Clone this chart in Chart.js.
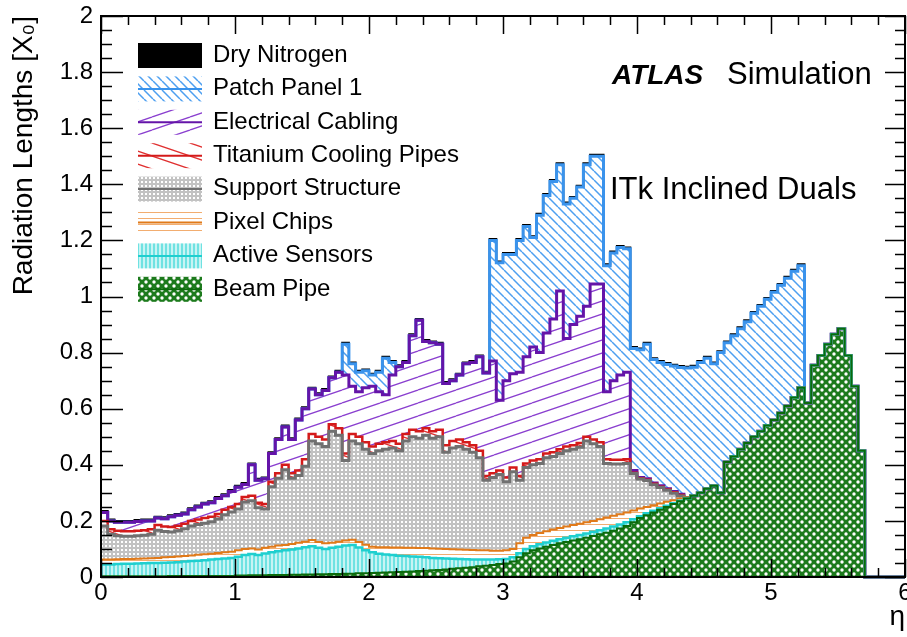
<!DOCTYPE html>
<html><head><meta charset="utf-8">
<script src="https://cdn.jsdelivr.net/npm/chart.js@4.4.1/dist/chart.umd.min.js"></script>
<style>html,body{margin:0;padding:0;background:#fff}#wrap{width:907px;height:637px}</style>
</head><body><div id="wrap"><canvas id="c" width="907" height="637"></canvas></div>
<script>
// eta bins: width 0.05 from 0 to 6 (120 bins). Values are cumulative stack tops [X0].
const binWidth = 0.05;
const etaMin = 0, etaMax = 6;
const yTicksStep = 0.2, yMax = 2;

const topBeamPipe = [0.003,0.003,0.003,0.003,0.003,0.003,0.003,0.003,0.003,0.003,
 0.004,0.004,0.004,0.004,0.004,0.004,0.004,0.004,0.004,0.004,
 0.005,0.005,0.006,0.006,0.006,0.007,0.007,0.007,0.008,0.008,
 0.009,0.009,0.010,0.010,0.011,0.011,0.012,0.012,0.013,0.013,
 0.014,0.015,0.016,0.017,0.018,0.019,0.020,0.021,0.022,0.024,
 0.025,0.027,0.029,0.031,0.033,0.035,0.038,0.040,0.043,0.046,
 0.048,0.055,0.070,0.085,0.095,0.102,0.108,0.114,0.120,0.125,
 0.130,0.135,0.140,0.146,0.152,0.158,0.165,0.173,0.182,0.195,
 0.210,0.220,0.230,0.240,0.250,0.260,0.270,0.280,0.290,0.300,
 0.315,0.325,0.300,0.410,0.430,0.455,0.478,0.500,0.520,0.540,
 0.560,0.585,0.610,0.640,0.675,0.620,0.755,0.790,0.830,0.865,
 0.885,0.790,0.680,0.450,0,0,0,0,0,0];

const topActiveSensors = [0.045,0.045,0.046,0.047,0.047,0.048,0.049,0.050,0.050,0.051,
 0.052,0.053,0.055,0.057,0.058,0.060,0.062,0.064,0.066,0.068,
 0.072,0.078,0.082,0.078,0.084,0.088,0.092,0.095,0.098,0.102,
 0.106,0.110,0.104,0.100,0.104,0.108,0.112,0.114,0.105,0.095,
 0.088,0.083,0.080,0.078,0.076,0.075,0.073,0.072,0.070,0.068,
 0.067,0.066,0.065,0.064,0.063,0.062,0.062,0.062,0.062,0.063,
 0.064,0.070,0.085,0.100,0.110,0.117,0.123,0.129,0.135,0.140,
 0.145,0.150,0.155,0.161,0.167,0.173,0.180,0.187,0.195,0.206,
 0.217,0.227,0.236,0.245,0.254,0.263,0.272,0.280,0.290,0.300,
 0.315,0.325,0.300,0.410,0.430,0.455,0.478,0.500,0.520,0.540,
 0.560,0.585,0.610,0.640,0.675,0.620,0.755,0.790,0.830,0.865,
 0.885,0.790,0.680,0.450,0,0,0,0,0,0];

const topPixelChips = [0.062,0.062,0.063,0.064,0.064,0.065,0.066,0.067,0.068,0.070,
 0.071,0.073,0.075,0.077,0.079,0.081,0.083,0.086,0.088,0.090,
 0.095,0.100,0.102,0.098,0.104,0.108,0.112,0.114,0.118,0.122,
 0.126,0.132,0.125,0.120,0.122,0.126,0.130,0.133,0.125,0.115,
 0.108,0.106,0.106,0.105,0.105,0.104,0.104,0.103,0.103,0.102,
 0.101,0.100,0.099,0.098,0.097,0.096,0.095,0.095,0.094,0.094,
 0.095,0.100,0.120,0.140,0.150,0.157,0.163,0.169,0.175,0.180,
 0.185,0.190,0.195,0.200,0.206,0.212,0.218,0.224,0.230,0.237,
 0.244,0.250,0.256,0.262,0.268,0.274,0.280,0.283,0.290,0.300,
 0.315,0.325,0.300,0.410,0.430,0.455,0.478,0.500,0.520,0.540,
 0.560,0.585,0.610,0.640,0.675,0.620,0.755,0.790,0.830,0.865,
 0.885,0.790,0.680,0.450,0,0,0,0,0,0];

const topSupportStructure = [0.182,0.152,0.147,0.145,0.145,0.147,0.149,0.152,0.167,0.162,
 0.160,0.165,0.172,0.182,0.187,0.192,0.197,0.207,0.222,0.232,
 0.242,0.267,0.272,0.247,0.242,0.322,0.352,0.382,0.352,0.362,
 0.395,0.485,0.475,0.465,0.520,0.505,0.415,0.485,0.475,0.455,
 0.440,0.450,0.455,0.460,0.450,0.485,0.500,0.495,0.505,0.495,
 0.500,0.445,0.460,0.465,0.455,0.445,0.425,0.345,0.355,0.365,
 0.340,0.375,0.345,0.390,0.400,0.405,0.425,0.430,0.440,0.450,
 0.455,0.463,0.485,0.475,0.465,0.405,0.403,0.403,0.405,0.369,
 0.349,0.344,0.329,0.319,0.309,0.299,0.289,0.283,0.290,0.300,
 0.315,0.325,0.300,0.410,0.430,0.455,0.478,0.500,0.520,0.540,
 0.560,0.585,0.610,0.640,0.675,0.620,0.755,0.790,0.830,0.865,
 0.885,0.790,0.680,0.450,0,0,0,0,0,0];

const topCoolingPipes = [0.200,0.170,0.165,0.163,0.163,0.165,0.167,0.170,0.185,0.180,
 0.178,0.183,0.190,0.200,0.205,0.210,0.215,0.225,0.240,0.250,
 0.260,0.285,0.290,0.265,0.260,0.340,0.370,0.400,0.370,0.380,
 0.420,0.510,0.500,0.490,0.545,0.530,0.440,0.510,0.500,0.480,
 0.465,0.475,0.480,0.485,0.475,0.510,0.525,0.520,0.530,0.520,
 0.525,0.470,0.485,0.490,0.480,0.470,0.450,0.360,0.370,0.380,
 0.355,0.390,0.360,0.405,0.415,0.420,0.440,0.445,0.455,0.465,
 0.470,0.478,0.500,0.490,0.480,0.420,0.418,0.418,0.420,0.372,
 0.352,0.347,0.332,0.322,0.312,0.302,0.292,0.283,0.290,0.300,
 0.315,0.325,0.300,0.410,0.430,0.455,0.478,0.500,0.520,0.540,
 0.560,0.585,0.610,0.640,0.675,0.620,0.755,0.790,0.830,0.865,
 0.885,0.790,0.680,0.450,0,0,0,0,0,0];

const topElectricalCabling = [0.230,0.200,0.195,0.195,0.195,0.198,0.200,0.200,0.210,0.208,
 0.215,0.220,0.225,0.240,0.250,0.260,0.265,0.280,0.290,0.305,
 0.320,0.330,0.400,0.345,0.350,0.440,0.490,0.535,0.490,0.560,
 0.600,0.670,0.650,0.665,0.710,0.730,0.720,0.680,0.660,0.675,
 0.680,0.660,0.650,0.720,0.750,0.765,0.860,0.915,0.840,0.835,
 0.830,0.690,0.700,0.720,0.760,0.765,0.785,0.727,0.770,0.630,
 0.700,0.725,0.730,0.785,0.820,0.800,0.870,0.920,1.020,0.850,
 0.900,0.930,0.965,1.045,1.045,0.660,0.700,0.720,0.730,0.380,
 0.355,0.350,0.335,0.325,0.315,0.305,0.295,0.283,0.290,0.300,
 0.315,0.325,0.300,0.410,0.430,0.455,0.478,0.500,0.520,0.540,
 0.560,0.585,0.610,0.640,0.675,0.620,0.755,0.790,0.830,0.865,
 0.885,0.790,0.680,0.450,0,0,0,0,0,0];

const topPatchPanel1 = [0.230,0.200,0.195,0.195,0.195,0.198,0.200,0.200,0.210,0.208,
 0.215,0.220,0.225,0.240,0.250,0.260,0.265,0.280,0.290,0.305,
 0.320,0.330,0.400,0.345,0.350,0.440,0.490,0.535,0.490,0.560,
 0.600,0.670,0.650,0.665,0.710,0.730,0.830,0.760,0.730,0.735,
 0.720,0.730,0.780,0.765,0.750,0.765,0.860,0.915,0.840,0.835,
 0.830,0.690,0.700,0.720,0.760,0.765,0.785,0.727,1.200,1.120,
 1.150,1.150,1.200,1.250,1.210,1.290,1.360,1.410,1.470,1.330,
 1.350,1.390,1.470,1.500,1.500,1.110,1.155,1.175,1.170,0.815,
 0.810,0.830,0.775,0.765,0.758,0.752,0.747,0.745,0.748,0.765,
 0.780,0.760,0.800,0.835,0.860,0.885,0.910,0.940,0.965,0.990,
 1.015,1.040,1.065,1.090,1.110,0.620,0.755,0.790,0.830,0.865,
 0.885,0.790,0.680,0.450,0,0,0,0,0,0];

const topDryNitrogen = [0.235,0.205,0.200,0.200,0.200,0.203,0.205,0.205,0.215,0.213,
 0.220,0.225,0.230,0.245,0.255,0.265,0.270,0.285,0.295,0.310,
 0.325,0.335,0.405,0.350,0.355,0.445,0.495,0.540,0.495,0.565,
 0.605,0.675,0.655,0.670,0.715,0.735,0.835,0.765,0.735,0.740,
 0.725,0.735,0.785,0.770,0.755,0.770,0.865,0.920,0.845,0.840,
 0.835,0.695,0.705,0.725,0.765,0.770,0.790,0.732,1.205,1.125,
 1.155,1.155,1.205,1.255,1.215,1.295,1.365,1.415,1.475,1.335,
 1.355,1.395,1.475,1.505,1.505,1.115,1.160,1.180,1.175,0.820,
 0.815,0.835,0.780,0.770,0.763,0.757,0.752,0.750,0.753,0.770,
 0.785,0.765,0.805,0.840,0.865,0.890,0.915,0.945,0.970,0.995,
 1.020,1.045,1.070,1.095,1.115,0.620,0.755,0.790,0.830,0.865,
 0.885,0.790,0.680,0.450,0,0,0,0,0,0];

const layerNames = ['Beam Pipe','Active Sensors','Pixel Chips','Support Structure',
  'Titanium Cooling Pipes','Electrical Cabling','Patch Panel 1','Dry Nitrogen'];
const layerTops = [topBeamPipe, topActiveSensors, topPixelChips, topSupportStructure,
  topCoolingPipes, topElectricalCabling, topPatchPanel1, topDryNitrogen];

const canvas = document.getElementById('c');
const ctx0 = canvas.getContext('2d');
function tile(w, h, fn) {
  const c = document.createElement('canvas'); c.width = w; c.height = h;
  const g = c.getContext('2d'); fn(g, w, h); return ctx0.createPattern(c, 'repeat');
}
const patBeam = tile(8, 8, g => {
  g.fillStyle = '#1c7a1c'; g.fillRect(0, 0, 8, 8); g.fillStyle = '#ffffff';
  g.beginPath(); g.arc(2, 2, 1.7, 0, 7); g.fill();
  g.beginPath(); g.arc(6, 6, 1.7, 0, 7); g.fill();
});
const patActive = tile(4, 4, g => { g.fillStyle = '#c8f4f4'; g.fillRect(0,0,4,4); g.fillStyle = '#6fe2e2'; g.fillRect(1,0,2,4); });
const patPixel = tile(6, 6, g => { g.fillStyle = '#fff'; g.fillRect(0,0,6,6); g.fillStyle = '#f2ad70'; g.fillRect(0,2,6,1); });
const patSupport = tile(4, 4, g => { g.fillStyle = '#c2c2c2'; g.fillRect(0,0,4,4); g.fillStyle = '#fff'; g.fillRect(1,1,2,2); });
const patCooling = tile(38, 13, g => {
  g.fillStyle = '#fff'; g.fillRect(0,0,38,13); g.strokeStyle = '#e03030'; g.lineWidth = 1.3;
  g.beginPath(); for (const d of [-13, 0, 13]) { g.moveTo(0, d); g.lineTo(38, d + 13); } g.stroke();
});
const patCabling = tile(38, 13, g => {
  g.fillStyle = '#fff'; g.fillRect(0,0,38,13); g.strokeStyle = '#8a3fcf'; g.lineWidth = 1.3;
  g.beginPath(); for (const d of [-13, 0, 13]) { g.moveTo(0, d + 13); g.lineTo(38, d); } g.stroke();
});
const patPatch = tile(9, 9, g => {
  g.fillStyle = '#fff'; g.fillRect(0,0,9,9); g.strokeStyle = '#4d9ff0'; g.lineWidth = 1.5;
  g.beginPath(); for (const k of [-9, 0, 9]) { g.moveTo(k, 0); g.lineTo(k + 9, 9); } g.stroke();
});
const fills = [patBeam, patActive, patPixel, patSupport, patCooling, patCabling, patPatch, '#000000'];
const lineColors = ['#0b6a0b', '#1fcfcf', '#e07a1a', '#707070', '#d41a1a', '#6414a8', '#3a93ec', '#000000'];
const lineWidths = [2, 2.5, 2, 3, 2.5, 3, 3, 2];

function toPoints(arr) {
  const pts = arr.map((v, i) => ({ x: i * binWidth, y: v }));
  pts.push({ x: etaMax, y: arr[arr.length - 1] });
  return pts;
}

const datasets = layerTops.map((arr, i) => ({
  label: layerNames[i],
  data: toPoints(arr),
  backgroundColor: fills[i],
  borderColor: lineColors[i],
  borderWidth: lineWidths[i],
  pointRadius: 0,
  stepped: true,
  tension: 0,
  fill: i === 0 ? 'origin' : '-1',
  clip: false
}));

const FONT = '"Liberation Sans", Arial, Helvetica, sans-serif';

const framePlugin = {
  id: 'frame',
  afterDatasetsDraw(chart) {
    const { ctx, chartArea: a, scales: { x, y } } = chart;
    ctx.save();
    ctx.strokeStyle = '#000'; ctx.lineWidth = 1.5;
    ctx.beginPath();
    for (let k = 0; k <= 40; k++) {
      const py = Math.round(y.getPixelForValue(k * 0.05)) + 0.5;
      const major = k % 4 === 0;
      ctx.moveTo(a.left, py); ctx.lineTo(a.left + (major ? 22 : 11), py);
      ctx.moveTo(a.right, py); ctx.lineTo(a.right - (major ? 20 : 10), py);
    }
    for (let k = 0; k <= 30; k++) {
      const px = Math.round(x.getPixelForValue(k * 0.2)) + 0.5;
      const major = k % 5 === 0;
      ctx.moveTo(px, a.bottom); ctx.lineTo(px, a.bottom - (major ? 18 : 9));
      ctx.moveTo(px, a.top); ctx.lineTo(px, a.top + (major ? 18 : 9));
    }
    ctx.stroke();
    ctx.lineWidth = 2;
    ctx.strokeRect(a.left, a.top, a.right - a.left, a.bottom - a.top);
    ctx.restore();
  },
  afterDraw(chart) {
    const { ctx } = chart;
    const ds = chart.data.datasets;
    ctx.save();
    const order = [7, 6, 5, 4, 3, 2, 1, 0];
    order.forEach((di, r) => {
      const bx = 138, bw = 64, bh = 25, by = 43 + r * 33.4;
      ctx.fillStyle = ds[di].backgroundColor;
      ctx.fillRect(bx, by, bw, bh);
      if (di !== 7) {
        ctx.strokeStyle = ds[di].borderColor; ctx.lineWidth = 2;
        ctx.beginPath(); ctx.moveTo(bx, by + bh / 2); ctx.lineTo(bx + bw, by + bh / 2); ctx.stroke();
      }
      ctx.fillStyle = '#000'; ctx.font = '24px ' + FONT;
      ctx.textAlign = 'left'; ctx.textBaseline = 'alphabetic';
      ctx.fillText(ds[di].label, 213, 61.7 + r * 33.4);
    });
    ctx.font = 'italic bold 28px ' + FONT;
    ctx.fillText('ATLAS', 612, 83.5);
    ctx.font = '31px ' + FONT;
    ctx.fillText('Simulation', 727, 83.5);
    ctx.fillText('ITk Inclined Duals', 610, 198.5);
    ctx.restore();
  }
};

new Chart(canvas, {
  type: 'line',
  data: { datasets },
  options: {
    responsive: false,
    animation: false,
    devicePixelRatio: 1,
    layout: { padding: { top: 16, right: 2, left: 0, bottom: 0 } },
    plugins: {
      legend: { display: false },
      tooltip: { enabled: false },
      filler: { drawTime: 'beforeDatasetsDraw' }
    },
    elements: { line: { borderJoinStyle: 'miter', borderCapStyle: 'butt' } },
    scales: {
      x: {
        type: 'linear', min: etaMin, max: etaMax,
        grid: { display: false, drawTicks: false },
        border: { display: false },
        ticks: { stepSize: 1, padding: 2, color: '#000', font: { family: FONT, size: 24, lineHeight: 1.2 }, maxRotation: 0,
          callback: v => String(Math.round(v * 10) / 10) },
        title: { display: true, text: 'η', align: 'end', color: '#000', font: { family: FONT, size: 28, lineHeight: 1.2 }, padding: { top: 0, bottom: 3 } },
        afterFit(s) { s.height = 60; s.paddingLeft = 0; s.paddingRight = 0; }
      },
      y: {
        type: 'linear', min: 0, max: yMax,
        grid: { display: false, drawTicks: false },
        border: { display: false },
        ticks: { stepSize: yTicksStep, padding: 8, color: '#000', font: { family: FONT, size: 24, lineHeight: 1.2 },
          callback: v => String(Math.round(v * 10) / 10) },
        title: { display: true, text: 'Radiation Lengths [X₀]', align: 'end', color: '#000', font: { family: FONT, size: 28, lineHeight: 1.2 }, padding: { top: 7, bottom: 0 } },
        afterFit(s) { s.width = 101; s.paddingTop = 0; s.paddingBottom = 0; }
      }
    }
  },
  plugins: [framePlugin]
});
</script>
</body></html>
